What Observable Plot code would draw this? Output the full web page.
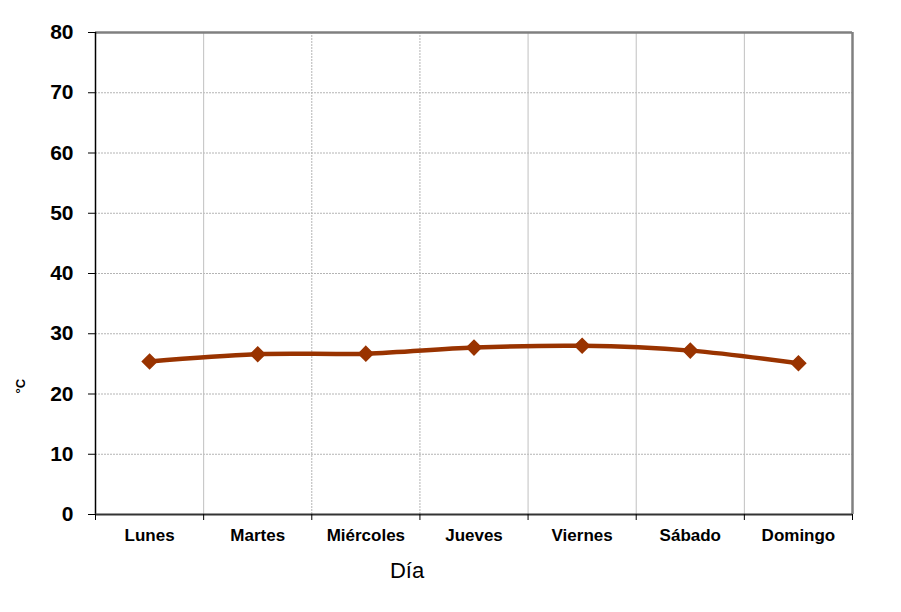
<!DOCTYPE html>
<html>
<head>
<meta charset="utf-8">
<script src="https://cdn.jsdelivr.net/npm/d3@7"></script>
<script src="https://cdn.jsdelivr.net/npm/@observablehq/plot@0.6"></script>
<style>
  html, body { margin: 0; padding: 0; background: #fff; }
  svg { display: block; }
</style>
</head>
<body>
<div id="chart"></div>
<script>
const days = ["Lunes", "Martes", "Miércoles", "Jueves", "Viernes", "Sábado", "Domingo"];
const values = [25.4, 26.6, 26.7, 27.7, 28.0, 27.2, 25.1];
const yTicks = [0, 10, 20, 30, 40, 50, 60, 70, 80];
const xLabel = "Día";
const yLabel = "°C";

const pts = days.map((d, i) => ({day: d, pos: i + 0.5, value: values[i]}));
const bounds = d3.range(0, days.length + 1);
const font = "Liberation Sans, Arial, sans-serif";

const chart = Plot.plot({
  width: 901,
  height: 612,
  marginLeft: 95,
  marginRight: 49,
  marginTop: 32,
  marginBottom: 98,
  style: {fontFamily: font, background: "#fff", color: "#000"},
  x: {domain: [0, days.length], axis: null},
  y: {domain: [0, 80], axis: null},
  marks: [
    Plot.ruleY(yTicks.slice(1, -1), {stroke: "#b4b4b4", strokeDasharray: "2,1", strokeWidth: 1}),
    Plot.ruleX([1, 4, 5, 6], {stroke: "#c0c0c0", strokeWidth: 1}),
    Plot.ruleX([2, 3], {stroke: "#b4b4b4", strokeDasharray: "2,1", strokeWidth: 1}),
    Plot.ruleY([80], {stroke: "#808080", strokeWidth: 2.5}),
    Plot.ruleX([days.length], {stroke: "#808080", strokeWidth: 2.5}),
    Plot.ruleX([0], {stroke: "#000", strokeWidth: 1.5}),
    Plot.ruleY([0], {stroke: "#333", strokeWidth: 2}),
    Plot.axisY({ticks: yTicks, tickSize: 7, tickPadding: 15, fontSize: 21, fontWeight: "bold", label: null, stroke: "#000"}),
    Plot.axisX({ticks: bounds, tickSize: 6, tickFormat: () => "", label: null, stroke: "#000"}),
    Plot.text(pts, {x: "pos", y: 0, text: "day", dy: 21, fontSize: 17, fontWeight: "bold", fill: "#000"}),
    Plot.line(pts, {x: "pos", y: "value", curve: "catmull-rom", stroke: "#993300", strokeWidth: 4.5}),
    Plot.dot(pts, {x: "pos", y: "value", symbol: "diamond2", r: 6.5, fill: "#993300", stroke: "#993300"}),
    Plot.text([xLabel], {frameAnchor: "bottom", dx: -67, dy: 63, fontSize: 22, fill: "#000"}),
    Plot.text([yLabel], {frameAnchor: "left", dx: -75, dy: 120, fontSize: 13, fontWeight: "bold", rotate: -90, fill: "#000"})
  ]
});
document.getElementById("chart").appendChild(chart);
</script>
</body>
</html>
